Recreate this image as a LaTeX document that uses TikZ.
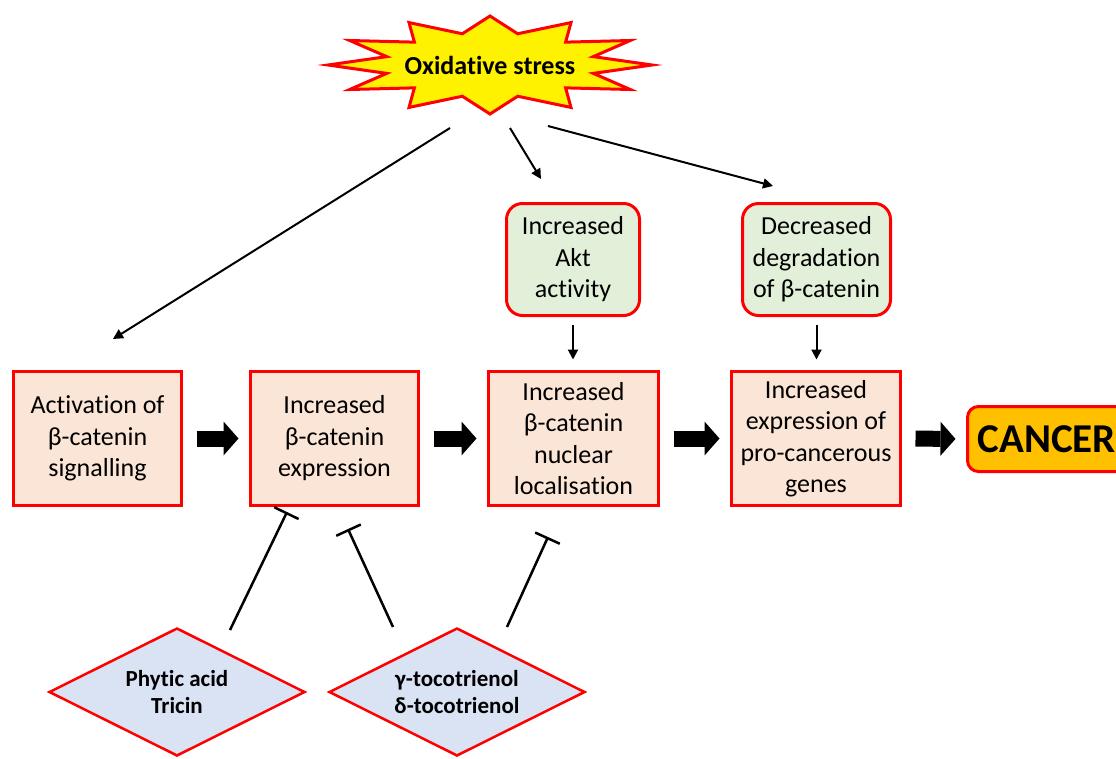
\documentclass[tikz,border=0pt]{standalone}
\usepackage{fontspec}
\setmainfont{Carlito}[Ligatures=NoCommon]
\usetikzlibrary{arrows.meta,shapes.geometric}
\definecolor{peach}{HTML}{FBE5D6}
\definecolor{mint}{HTML}{E2F0D9}
\definecolor{paleblue}{HTML}{DAE3F3}
\definecolor{amber}{HTML}{FFC000}
\definecolor{pred}{HTML}{FF0000}
\begin{document}
\begin{tikzpicture}[x=1pt,y=-1pt,
  stepbox/.style={draw=pred, line width=3pt, fill=peach, minimum width=168pt, minimum height=134pt,
    align=center, font=\fontsize{26}{31.5}\selectfont, inner sep=0pt, outer sep=0pt},
  roundbox/.style={stepbox, fill=mint, rounded corners=16pt, minimum height=112pt},
  agent/.style={diamond, aspect=2, draw=pred, line width=2.5pt, fill=paleblue, minimum width=256pt, minimum height=128pt,
    inner sep=0pt, align=center, font=\bfseries\fontsize{23}{27}\selectfont},
  thinarrow/.style={line width=2pt, -{Triangle[length=10pt,width=10pt]}},
  fat/.style={line width=16pt, -{Triangle[length=15pt,width=34pt,line width=0pt]}, shorten <=15pt, shorten >=12pt},
  inh/.style={line width=2.5pt, -{Bar[width=27pt,line width=2.5pt]}}
]
\useasboundingbox (0,0) rectangle (1116,758);

% Oxidative stress burst
\draw[draw=pred, fill=yellow, line width=3pt, line join=miter]
  plot[domain=0:23, samples=24] ({490+162*(1-0.34*mod(\x,2))*cos(90+15*\x)}, {65-49*(1-0.34*mod(\x,2))*sin(90+15*\x)}) -- cycle;
\node[font=\bfseries\fontsize{26}{30}\selectfont] (ox) at (490,65) {Oxidative stress};

% main chain
\node[stepbox] (b1) at (97.5,438.5) {Activation of\\β-catenin\\signalling};
\node[stepbox] (b2) at (334.5,438.5) {Increased\\β-catenin\\expression};
\node[stepbox, minimum width=170pt] (b3) at (573.5,438.5) {Increased\\β-catenin\\nuclear\\localisation};
\node[stepbox, minimum width=169pt] (b4) at (816,438.5) {Increased\\expression of\\pro-cancerous\\genes};
\node[draw=pred, line width=3pt, fill=amber, rounded corners=11pt, anchor=west, minimum height=65pt,
  text width=150pt, align=left,
  inner xsep=10pt, outer sep=0pt, font=\bfseries\fontsize{41}{43}\selectfont] (cancer) at (967.5,439) {CANCER};

% upper boxes
\node[roundbox, minimum width=133pt] (akt) at (573,259.5) {Increased\\Akt\\activity};
\node[roundbox, minimum width=148pt] (dec) at (816.5,259.5) {Decreased\\degradation\\of β-catenin};

% agents
\node[agent] (pa) at (177,692) {Phytic acid\\Tricin};
\node[agent] (toc) at (457,692) {γ-tocotrienol\\δ-tocotrienol};

% fat arrows
\draw[fat] (b1) -- (b2);
\draw[fat] (b2) -- (b3);
\draw[fat] (b3) -- (b4);
\draw[fat] (b4.east) -- (cancer.west);

% oxidative stress arrows
\coordinate (s1) at (450,128);
\coordinate (s2) at (510,128);
\coordinate (s3) at (548,126);
\coordinate (e1) at (113,339);
\coordinate (e2) at (541,179);
\coordinate (e3) at (773,186);
\draw[thinarrow] (s1) -- (e1);
\draw[thinarrow] (s2) -- (e2);
\draw[thinarrow] (s3) -- (e3);

% upper boxes to chain
\draw[thinarrow, shorten <=9pt, shorten >=12pt] (akt.south) -- (akt.south |- b3.north);
\draw[thinarrow, shorten <=9pt, shorten >=12pt] (dec.south) -- (dec.south |- b4.north);

% inhibitions
\coordinate (p1) at (230,630);
\coordinate (q1) at (287,512);
\coordinate (p2) at (393,627);
\coordinate (q2) at (348,529);
\coordinate (p3) at (507,627);
\coordinate (q3) at (548,537);
\draw[inh] (p1) -- (q1);
\draw[inh] (p2) -- (q2);
\draw[inh] (p3) -- (q3);
\end{tikzpicture}
\end{document}
